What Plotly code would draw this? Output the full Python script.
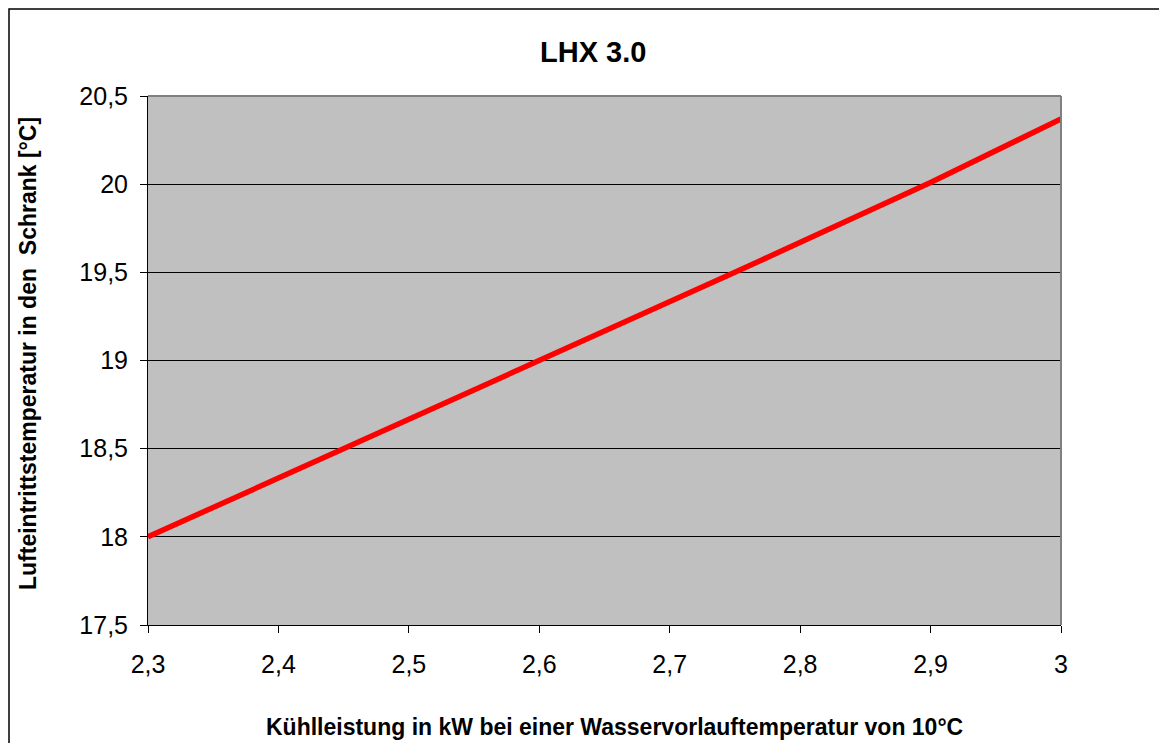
import plotly.graph_objects as go

x_kw = [2.3, 2.45, 2.6, 2.75, 2.9, 3.0]
y_temp = [18.0, 18.5, 19.0, 19.5, 20.01, 20.37]
x_ticks = [2.3, 2.4, 2.5, 2.6, 2.7, 2.8, 2.9, 3.0]
y_ticks = [17.5, 18, 18.5, 19, 19.5, 20, 20.5]

OFF = 8  # browser body margin
W, H = 1167 - OFF, 743 - OFF
# plot area in screen pixels
SL, SR, ST, SB = 148, 1061, 96, 625
L, R, T, B = SL - OFF, SR - OFF, ST - OFF, SB - OFF

fig = go.Figure()
fig.add_trace(go.Scatter(x=x_kw, y=y_temp, mode="lines",
                         line=dict(color="#ff0000", width=5.5), showlegend=False))

font = "Arial, Liberation Sans, sans-serif"
fig.update_layout(
    width=W, height=H,
    margin=dict(l=L, r=W - R, t=T, b=H - B, pad=0),
    paper_bgcolor="white", plot_bgcolor="#c0c0c0",
    separators=",.",
    font=dict(family=font, color="black"),
    xaxis=dict(range=[2.3, 3.0], tickvals=x_ticks, showgrid=False, zeroline=False,
               showline=True, linecolor="black", linewidth=1,
               ticks="outside", ticklen=7, tickcolor="black",
               tickfont=dict(size=25, family=font), ticklabelstandoff=10),
    yaxis=dict(range=[17.5, 20.5], tickvals=y_ticks, showgrid=True, gridcolor="black",
               gridwidth=1, zeroline=False,
               showline=True, linecolor="black", linewidth=1,
               ticks="outside", ticklen=7, tickcolor="black",
               tickfont=dict(size=25, family=font), ticklabelstandoff=7),
)

def px(xs):
    return (xs - OFF - L) / (R - L)

def py(ys):
    return (B - (ys - OFF)) / (B - T)

# plot-area top and right borders (gray)
fig.add_shape(type="line", xref="paper", yref="paper", x0=0, x1=1, y0=1, y1=1,
              line=dict(color="#808080", width=2))
fig.add_shape(type="line", xref="paper", yref="paper", x0=1, x1=1, y0=0, y1=1,
              line=dict(color="#808080", width=2))
# outer chart frame
fig.add_shape(type="rect", xref="paper", yref="paper",
              x0=px(OFF + 1), x1=px(1200), y0=py(OFF + 1), y1=py(780),
              line=dict(color="black", width=1.5), layer="above")

fig.add_annotation(text="<b>LHX 3.0</b>", xref="paper", yref="paper",
                   x=px(593), y=py(52), xanchor="center", yanchor="middle",
                   showarrow=False, font=dict(size=29, family=font, color="black"))
fig.add_annotation(text="<b>Kühlleistung in kW bei einer Wasservorlauftemperatur von 10°C</b>",
                   xref="paper", yref="paper", x=px(614), y=py(727),
                   xanchor="center", yanchor="middle", showarrow=False,
                   font=dict(size=23, family=font, color="black"))
fig.add_annotation(text="<b>Lufteintrittstemperatur in den  Schrank [°C]</b>",
                   xref="paper", yref="paper", x=px(28), y=py(354),
                   xanchor="center", yanchor="middle", showarrow=False,
                   textangle=-90, font=dict(size=23, family=font, color="black"))

fig.write_html("out.html")
